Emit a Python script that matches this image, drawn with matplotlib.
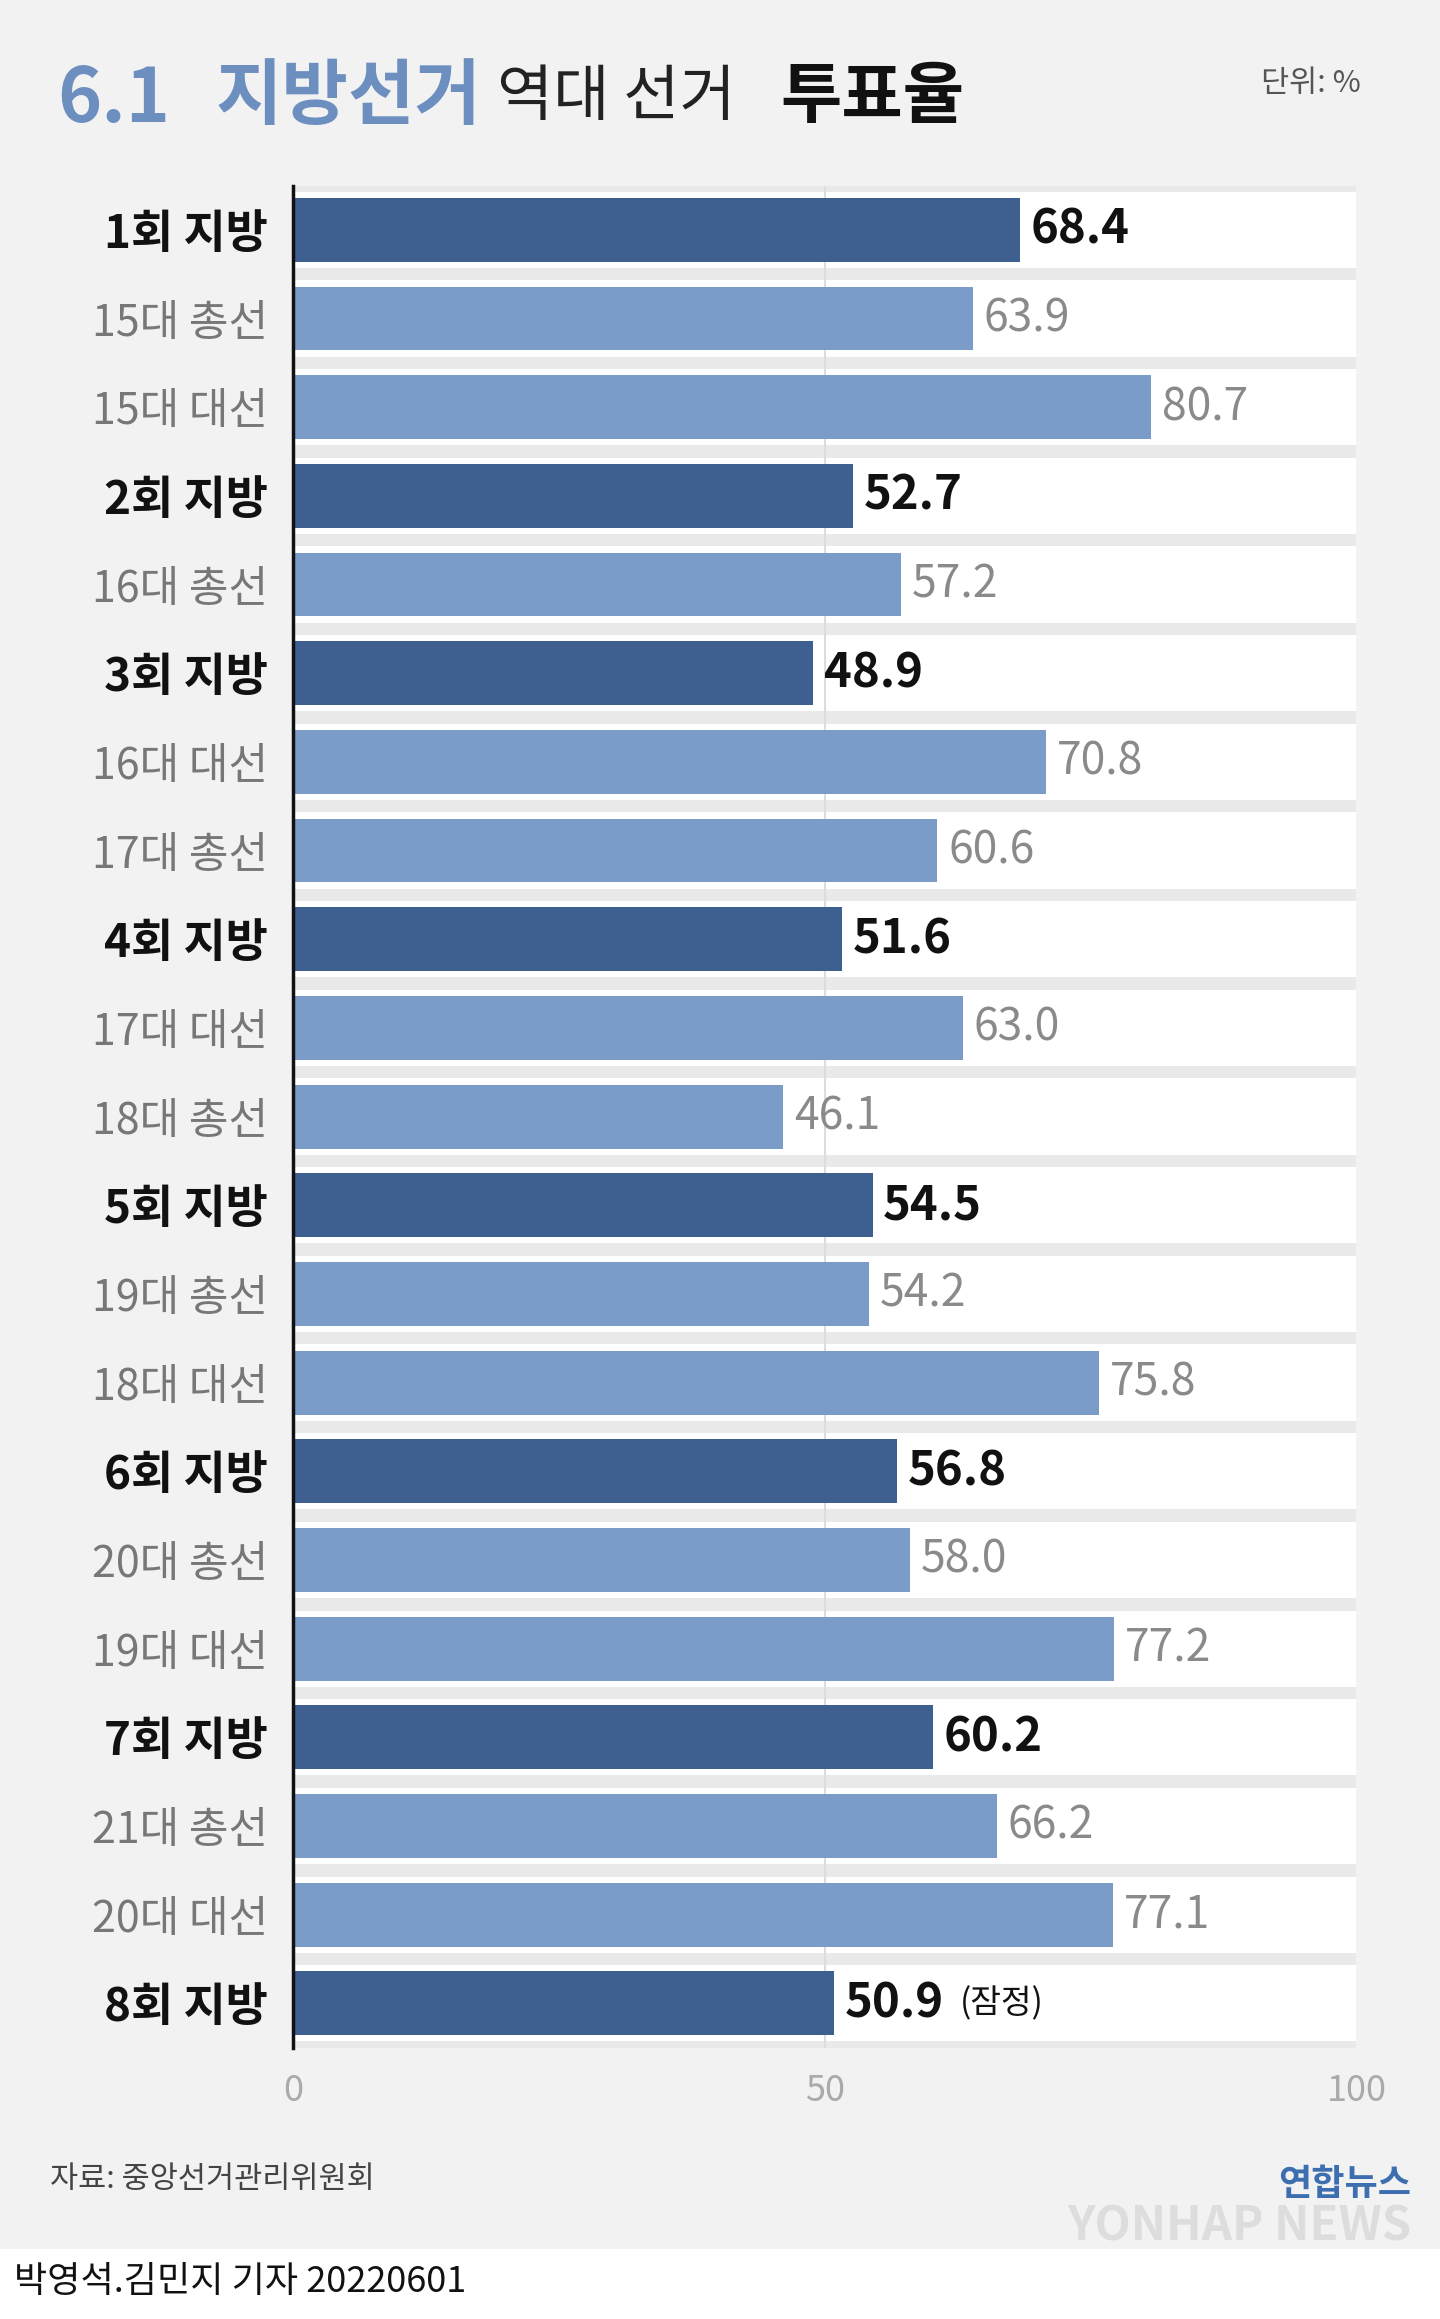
import matplotlib
matplotlib.use("Agg")
import matplotlib.pyplot as plt

plt.rcParams['font.family'] = ['Noto Sans CJK KR', 'DejaVu Sans']

labels = ["1회 지방","15대 총선","15대 대선","2회 지방","16대 총선","3회 지방","16대 대선","17대 총선",
          "4회 지방","17대 대선","18대 총선","5회 지방","19대 총선","18대 대선","6회 지방","20대 총선",
          "19대 대선","7회 지방","21대 총선","20대 대선","8회 지방"]
values = [68.4,63.9,80.7,52.7,57.2,48.9,70.8,60.6,51.6,63.0,46.1,54.5,54.2,75.8,56.8,58.0,77.2,60.2,66.2,77.1,50.9]
local = [l.endswith("지방") for l in labels]
ticks = [0, 50, 100]

fig = plt.figure(figsize=(14.4, 23.19), dpi=100)
fig.patch.set_facecolor('#f2f2f2')
ax = fig.add_axes([0.2035, 0.117, 0.7385, 0.803])
ax.set_facecolor('#e9e9e9')
n = len(labels)
y = list(range(n))
ax.barh(y, [100]*n, height=0.86, color='white', zorder=0)
ax.axvline(50, color='#dddddd', lw=1.5, zorder=1)
cols = ['#3d6090' if l else '#7b9cc8' for l in local]
ax.barh(y, values, height=0.72, color=cols, zorder=2)
for i, (v, l) in enumerate(zip(values, local)):
    if l:
        ax.text(v + 1.0, i, f"{v:.1f}", va='center', ha='left', fontsize=34, fontweight='bold', color='#111111')
    else:
        ax.text(v + 1.0, i, f"{v:.1f}", va='center', ha='left', fontsize=32, fontweight='medium', color='#8a8a8a')
ax.text(values[-1] + 11.8, n-1, "(잠정)", va='center', ha='left', fontsize=24, color='#111111')
ax.set_xlim(0, 100)
ax.set_ylim(n - 0.5, -0.5)
ax.set_yticks(y)
ax.set_yticklabels(labels)
for t, l in zip(ax.get_yticklabels(), local):
    if l:
        t.set_fontweight('bold'); t.set_fontsize(33); t.set_color('#111111')
    else:
        t.set_fontsize(31); t.set_color('#777777')
ax.set_xticks(ticks)
ax.set_xticklabels([str(t) for t in ticks], fontsize=26, color='#aaaaaa')
ax.tick_params(length=0, pad=18)
for s in ['top', 'right', 'bottom']:
    ax.spines[s].set_visible(False)
ax.spines['left'].set_color('#111111')
ax.spines['left'].set_linewidth(2.5)

fig.text(0.04, 0.957, "6.1", fontsize=54, fontweight='bold', color='#6c8fc0', va='center')
fig.text(0.150, 0.958, "지방선거", fontsize=52, fontweight='bold', color='#6c8fc0', va='center')
fig.text(0.345, 0.958, "역대 선거", fontsize=44, color='#222222', va='center')
fig.text(0.542, 0.958, "투표율", fontsize=48, fontweight='bold', color='#111111', va='center')
fig.text(0.945, 0.964, "단위: %", fontsize=22, color='#555555', va='center', ha='right')
fig.text(0.035, 0.060, "자료: 중앙선거관리위원회", fontsize=22, color='#444444', va='center')
fig.text(0.98, 0.058, "연합뉴스", fontsize=26, fontweight='bold', color='#3d6fb0', va='center', ha='right')
fig.text(0.98, 0.040, "YONHAP NEWS", fontsize=34, fontweight='bold', style='italic', color='#dddddd', va='center', ha='right')
fig.patches.append(plt.Rectangle((0, 0), 1, 0.03, transform=fig.transFigure, color='white', zorder=0))
fig.text(0.01, 0.016, "박영석.김민지 기자 20220601", fontsize=26, color='#111111', va='center')
fig.savefig("out.png", dpi=100, facecolor=fig.get_facecolor())
